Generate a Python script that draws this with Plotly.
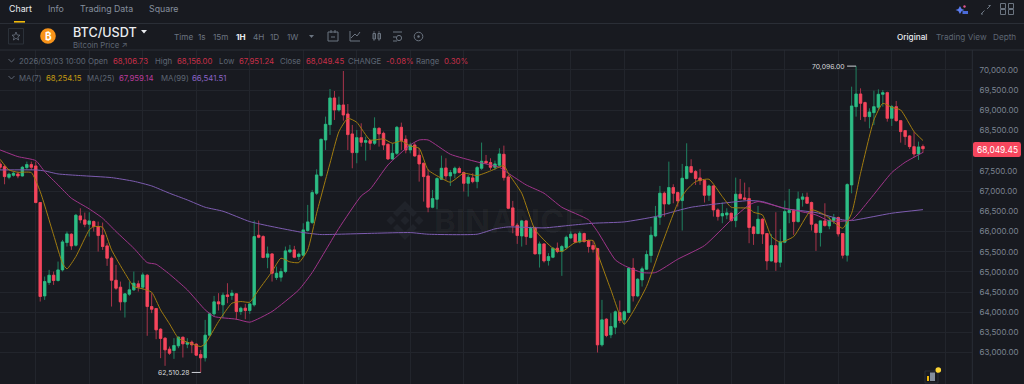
import pandas as pd
import plotly.graph_objects as go

opens = [67673,67607,67344,67393,67426,67376,67583,67657,67624,66717,
64406,64737,64918,64786,65050,65727,65933,65660,66387,66288,
66180,66246,66122,65908,65644,65339,64794,64621,64258,64448,
64555,64704,64621,64918,64142,64093,63581,63359,63087,63054,
63169,63383,63210,63260,63210,62955,62872,63433,63961,64258,
64184,64431,64415,64456,64019,64101,64044,64184,65908,65875,
65363,65446,64860,64869,65009,65495,65545,65380,65413,66024,
66222,66948,67385,68267,68647,69307,69010,69134,68911,68416,
67954,68325,68210,68251,68185,68556,68432,68160,67797,67937,
68581,68284,68020,68144,67888,67690,67376,66601,66799,67294,
67575,67376,67442,67558,67459,67195,67327,67236,67566,67740,
67707,67591,67641,67913,67352,66585,66155,65891,66263,65850,
66090,65446,65693,65281,65363,65586,65504,65603,65842,65933,
65743,65949,65776,65652,65578,63194,63829,63441,63631,63994,
63812,63994,65091,64406,64802,65067,65405,65891,66354,66948,
66684,67088,66964,66766,67311,67607,67484,67327,67261,66898,
67129,66535,66387,66411,66452,66271,66923,66832,66815,66114,
65949,66304,65949,65273,65652,65240,65735,66469,66519,66246,
66799,66849,66717,66180,65974,66263,66139,66271,66345,65949,
65413,67154,69092,69406,69192,68845,68944,69076,69398,69439,
68804,69092,68746,68499,68367,68102,67921,68106.73]
highs = [67731,67649,67459,67484,67484,67624,67731,67731,67731,66730,
64885,65050,65009,65256,65792,66000,65957,66436,66576,66469,
66477,66271,66246,66222,65710,65380,65174,64761,64473,64761,
65009,64786,64984,64943,64473,64100,63606,63383,63152,63359,
63400,63395,63359,63301,63235,63070,63812,63994,64406,64473,
64489,64720,64555,64473,64142,64208,64225,66271,66271,65908,
65628,65463,65132,65091,65628,65669,65644,65479,66205,66659,
67030,67541,68295,68845,69530,69480,69340,69975,69158,68639,
68515,68680,68350,68267,68828,68581,68474,68185,68185,68614,
68697,68383,68202,68202,68061,67707,67541,67030,67344,67880,
67814,67525,67607,67607,67484,67401,67442,67624,68202,67896,
67814,67756,68061,68127,67401,66758,66205,66288,66288,66122,
66122,65751,65710,65463,65611,65727,65669,65900,66007,65957,
66007,65974,65801,65776,65595,64307,63854,63978,64044,64291,
64044,65116,65339,64844,65132,65529,66122,66634,67129,66989,
67731,67170,66989,67674,68185,67789,67525,67550,67277,67162,
67154,66576,66717,66576,66469,67335,67302,67211,67096,66139,
66634,66329,65957,65933,66477,66057,66766,67055,66552,66989,
66948,66964,66741,66205,66271,66700,66370,66436,66370,65957,
67195,69587,70096,69546,69216,69051,69488,69521,69505,69464,
69134,69233,68763,68515,68391,68474,68226,68156]
lows = [67525,67170,67294,67360,67319,67360,67541,67525,66700,64266,
64307,64679,64679,64761,65009,65628,65545,65628,66205,66106,
65875,66000,65504,65545,65149,64142,64555,64044,63870,64406,
64530,64514,64572,63417,63978,63334,62864,62674,62946,62847,
63111,62880,63111,62987,62921,62510.28,62781,63400,63895,64044,
63854,64225,64307,63812,63936,63829,63961,64142,65834,65339,
65091,64761,64802,64761,64968,65463,65339,65297,65380,66000,
66188,66906,67360,68020,68391,68762,68969,68746,68020,67566,
67690,68102,67756,68020,68144,68102,68020,67772,67772,67896,
68020,67937,67937,67855,67236,66741,66477,66576,66552,67277,
67277,67129,67319,67442,66989,66865,67195,67071,67525,67674,
67525,67525,67607,67261,66552,65957,65693,65628,65669,65834,
65440,65108,65231,65157,65339,65463,64902,65561,65817,65710,
65710,65727,65479,65479,63004,63152,63383,63359,63458,63730,
63689,63978,64266,64374,64637,65050,65231,65859,66164,66370,
66659,66700,66617,66024,67294,67442,67154,67154,66717,66758,
66370,66271,66205,66304,66246,66106,66799,66782,65710,65669,
65941,65693,65050,65256,65025,65116,65710,66205,65916,66222,
66617,66684,66024,65520,65628,66122,66057,66188,65875,65331,
65256,66947,68845,68762,68721,68556,68639,69010,69092,68721,
68614,68721,68201,68144,68045,67838,67773,67951.24]
closes = [67591,67360,67418,67442,67376,67591,67657,67591,66717,64390,
64761,64918,64786,65050,65743,65941,65644,66403,66288,66180,
66263,66122,65900,65628,65339,64794,64596,64258,64456,64555,
64720,64621,64926,64142,64076,63565,63350,63070,62987,63177,
63383,63219,63252,63194,62938,62872,63433,63961,64258,64208,
64423,64390,64473,64019,64101,64044,64208,65875,65859,65355,
65446,64968,64968,65009,65520,65545,65363,65438,66040,66238,
66964,67401,68284,68655,69307,69010,69134,68886,68400,67954,
68325,68210,68251,68185,68556,68416,68144,67797,67937,68581,
68251,68020,68144,67871,67674,67360,66601,66815,67311,67566,
67376,67459,67566,67459,67195,67344,67236,67583,67740,67698,
67591,67674,67921,67335,66576,66147,65900,66263,65875,66081,
65446,65693,65273,65380,65586,65504,65628,65859,65933,65735,
65957,65751,65628,65561,63194,63812,63425,63648,64011,63796,
64011,65091,64406,64819,65075,65430,65908,66354,66948,66684,
67088,66948,66758,67319,67607,67467,67311,67261,66898,67129,
66535,66370,66444,66461,66271,66923,66815,66799,66098,65949,
66304,65941,65273,65652,65240,65743,66494,66519,66246,66807,
66857,66700,66180,65974,66263,66147,66271,66345,65941,65413,
67162,69109,69406,69175,68845,68960,69092,69398,69439,68804,
69092,68746,68474,68350,68102,67921,68094,68049.45]

# moving-average readings: position (candle number, 0 = the big drop) and value
ma7_pos = [-8,-6,-4,-1,1,4,6,7,9,12,13,15,17,20,22,24,26,28,30,32,35,37,38,41,44,46,48,50,53,55,57,59,61,63,66,68,70,72,75,78,80,82,84,86,88,91,93,96,99,102,105,106,109,112,116,118,121,125,126,129,132,134,137,140,144,146,148,151,154,156,160,161,163,165,167,170,174,177,181,183,185,188,190,192,194,197,199]
ma7_val = [67789,67525,67467,67459,66989,65916,65215,65075,65380,66040,66122,66106,65545,64968,64637,64580,64497,64060,63714,63359,63219,63152,63219,63771,64225,64266,64250,64555,65009,65339,65248,65231,65545,66452,67690,68474,68804,68705,68267,68292,68185,68243,68119,68061,67525,67319,67220,67442,67385,67500,67632,67442,66948,66040,65586,65504,65727,65776,65463,64555,63705,64019,64637,65545,66700,67030,67236,67294,66865,66601,66576,66477,66411,65875,65735,65875,66535,66411,66081,66452,67443,68762,69175,69076,69010,68474,68254.15]
ma25_pos = [-8,-4,0,2,5,8,12,15,18,22,25,27,30,34,38,40,45,48,53,59,62,68,73,75,79,84,86,88,93,99,104,106,110,114,118,124,126,130,132,136,139,144,150,156,160,162,168,175,178,183,187,192,195,199]
ma25_val = [68020,67855,67756,67484,67154,66824,66560,66329,66000,65586,65231,65190,64943,64555,64060,63895,63829,63755,64019,64555,64984,66081,66881,67047,67649,68144,68267,68267,67913,67723,67591,67442,67154,66948,66601,66288,66000,65297,65157,64984,64984,65314,65652,66288,66659,66741,66576,66411,66263,66287,66782,67459,67715,67959.14]
ma99_pos = [-8,0,2,5,10,17,22,26,30,34,38,42,48,53,60,64,68,76,84,88,99,103,106,114,120,125,132,139,144,147,152,160,163,168,175,181,183,186,192,199]
ma99_val = [67525,67525,67500,67426,67385,67335,67244,67129,66948,66782,66601,66502,66246,66122,65974,65925,65933,65957,65974,65933,65933,66065,66114,66090,66155,66205,66238,66370,66519,66601,66675,66766,66741,66568,66469,66288,66271,66329,66453,66541.51]

y_ticks = [63000,63500,64000,64500,65000,65500,66000,66500,67000,67500,68000,68500,69000,69500,70000]
y_labels = ["63,000.00","63,500.00","64,000.00","64,500.00","65,000.00","65,500.00","66,000.00","66,500.00","67,000.00","67,500.00","","68,500.00","69,000.00","69,500.00","70,000.00"]

nav_tabs = ["Chart","Info","Trading Data","Square"]
intervals = ["Time","1s","15m","1H","4H","1D","1W"]
views = ["Original","Trading View","Depth"]

BG, GRID, DIV = "#181a20", "#22252c", "#2a2e36"
UP, DOWN = "#2ebd85", "#f6465d"
UP_W, DOWN_W = "#1f8060", "#a8344a"
C7, C25, C99 = "#a17c10", "#a0348a", "#7d5cb0"
FONT = "Inter"
W, H, R, T = 1024, 384, 52, 50
PW, PH = W - R, H - T

times = pd.date_range(end="2026-03-03 10:00", periods=len(opens), freq="h")
def t(n):
    return pd.Timestamp("2026-02-23 03:00") + pd.Timedelta(hours=n)
def at(pos):
    return [t(n) for n in pos]

fig = go.Figure()
fig.add_trace(go.Candlestick(x=times, open=opens, high=highs, low=lows, close=closes,
    increasing=dict(line=dict(color=UP_W, width=1), fillcolor=UP_W),
    decreasing=dict(line=dict(color=DOWN_W, width=1), fillcolor=DOWN_W),
    whiskerwidth=0, name="wick", hoverinfo="skip"))
fig.add_trace(go.Candlestick(x=times, open=opens, close=closes,
    high=[max(a, b) for a, b in zip(opens, closes)], low=[min(a, b) for a, b in zip(opens, closes)],
    increasing=dict(line=dict(color=UP, width=0.6), fillcolor=UP),
    decreasing=dict(line=dict(color=DOWN, width=0.6), fillcolor=DOWN),
    whiskerwidth=0, name="BTC/USDT"))
for pos, val, col, name in [(ma99_pos, ma99_val, C99, "MA(99)"), (ma25_pos, ma25_val, C25, "MA(25)"), (ma7_pos, ma7_val, C7, "MA(7)")]:
    fig.add_trace(go.Scatter(x=at(pos), y=val, mode="lines", name=name,
                             line=dict(color=col, width=1, shape="spline", smoothing=0.5)))

def X(px): return px / PW
def Y(py): return (H - py) / PH
ann, shp = [], []
def text(x, y, s, color="#848e9c", size=8.5, anchor="left", weight=None):
    f = dict(family=FONT, size=size, color=color)
    if weight:
        f["weight"] = weight
    ann.append(dict(xref="paper", yref="paper", x=X(x), y=Y(y), text=s, showarrow=False, xanchor=anchor, yanchor="middle", borderpad=0, font=f))
def rect(x0, y0, x1, y1, fill=None, line=None, lw=1, layer="above"):
    shp.append(dict(type="rect", xref="paper", yref="paper", x0=X(x0), x1=X(x1), y0=Y(y0), y1=Y(y1), fillcolor=fill,
                    line=dict(color=line, width=lw if line else 0), layer=layer))
def seg(x0, y0, x1, y1, color, lw=1, layer="above"):
    shp.append(dict(type="line", xref="paper", yref="paper", x0=X(x0), x1=X(x1), y0=Y(y0), y1=Y(y1), line=dict(color=color, width=lw), layer=layer))
def circ(cx, cy, r, fill=None, line=None, lw=1):
    shp.append(dict(type="circle", xref="paper", yref="paper", x0=X(cx-r), x1=X(cx+r), y0=Y(cy-r), y1=Y(cy+r), fillcolor=fill,
                    line=dict(color=line, width=lw if line else 0)))
def poly(pts, fill=None, line=None, lw=1, layer="above"):
    d = "M " + " L ".join(f"{X(a):.5f},{Y(b):.5f}" for a, b in pts) + " Z"
    shp.append(dict(type="path", xref="paper", yref="paper", path=d, fillcolor=fill, line=dict(color=line, width=lw if line else 0), layer=layer))

# top nav
for s, x, c in zip(nav_tabs, [8, 47, 79, 148], ["#eaecef", "#848e9c", "#848e9c", "#848e9c"]):
    text(x, 8.6, s, c, 8.8)
rect(14, 21, 25, 22.6, fill="#f0b90b")
seg(0, 23.5, W, 23.5, DIV)
seg(0, 50, W, 50, DIV)
seg(PW + .3, 50, PW + .3, H, DIV)

# star box, coin
rect(8.5, 28.5, 23.5, 44, line="#2b3139")
poly([(16,32),(17.2,35),(20,35.2),(17.8,37),(18.6,40),(16,38.3),(13.4,40),(14.2,37),(12,35.2),(14.8,35)], line="#6a7280", lw=0.8)
circ(48, 36, 7.8, fill="#f7931a")
text(48, 36, "₿", "#ffffff", 10, "center", 700)
text(72, 32.5, "BTC/USDT", "#eaecef", 12.6, weight=500)
poly([(141,30),(147,30),(144,33.5)], fill="#eaecef")
text(72, 45, "Bitcoin Price ↗", "#5e6673", 7.8)

for s, x, c in zip(intervals, [173, 197, 212, 235, 252, 269, 286],
                   ["#6b7480", "#6b7480", "#6b7480", "#eaecef", "#6b7480", "#6b7480", "#6b7480"]):
    text(x, 37, s, c, 8.2, weight=700 if s == "1H" else None)
poly([(309,35),(314,35),(311.5,38)], fill="#6b7480")
# toolbar icons
ic = "#6b7480"
rect(328, 32, 338, 41, line=ic); seg(331, 30, 331, 33, ic); seg(335, 30, 335, 33, ic); seg(331, 37, 335, 37, ic)
seg(350, 31, 350, 41, ic); seg(350, 41, 360, 41, ic); seg(351, 38, 355, 34, ic); seg(355, 34, 357, 36, ic); seg(357, 36, 360, 32, ic)
rect(373, 33.5, 375.5, 39, line=ic); rect(378, 33.5, 380.5, 39, line=ic); seg(374, 31, 374, 41, ic, .7); seg(379, 31, 379, 41, ic, .7)
seg(393, 32, 402, 32, ic); seg(393, 37, 396, 37, ic); seg(393, 41, 397, 41, ic); circ(399, 38, 2.6, line=ic)
circ(418.5, 36.5, 4.3, line=ic); circ(418.5, 36.5, 1.2, fill=ic)
# right of toolbar
for s, x, c, wgt in zip(views, [896, 935, 992], ["#eaecef", "#5e6673", "#5e6673"], [500, None, None]):
    text(x, 37, s, c, 8.2, weight=wgt)
# top right icons
poly([(960,6),(961.7,9),(964.5,10),(961.7,11),(960,14),(958.3,11),(955.5,10),(958.3,9)], fill="#5b7cf0")
circ(964.5, 6.5, 1.2, fill="#e0568c"); rect(962.5, 11, 968, 14, fill="#4a6ad8")
seg(981, 14, 984.5, 10.5, "#6b7480"); seg(987, 9, 990.5, 5.5, "#6b7480"); seg(981,14,983,14,"#6b7480"); seg(988.5,5.5,990.5,5.5,"#6b7480")
for cx, cy in [(1003, 6), (1011, 6), (1003, 12), (1011, 12)]:
    rect(cx-2.5, cy-2.5, cx+2.5, cy+2.5, line="#6b7480")

# info rows
RED_T = "#c72f48"
def chevron(y):
    shp.append(dict(type="path", xref="paper", yref="paper", path=f"M {X(8.5):.5f},{Y(y-1.5):.5f} L {X(11.5):.5f},{Y(y+1.5):.5f} L {X(14.5):.5f},{Y(y-1.5):.5f}", line=dict(color="#5e6673", width=1)))
chevron(60.5)
for x, s, c in [(18, "2026/03/03 10:00", "#5e6673"), (87, "Open", "#5e6673"), (112, "68,106.73", RED_T), (154, "High", "#5e6673"),
                (176, "68,156.00", RED_T), (218, "Low", "#5e6673"), (237.5, "67,951.24", RED_T), (279, "Close", "#5e6673"),
                (305, "68,049.45", RED_T), (347, "CHANGE", "#5e6673"), (385, "-0.08%", RED_T), (415, "Range", "#5e6673"), (443, "0.30%", RED_T)]:
    text(x, 60.7, s, c, 7.8)
chevron(77.5)
for x, s, c in [(18, "MA(7)", "#5e6673"), (45, "68,254.15", "#c49a12"), (86, "MA(25)", "#5e6673"), (118, "67,959.14", "#b73a9b"),
                (160, "MA(99)", "#5e6673"), (191, "66,541.51", "#8a63c6")]:
    text(x, 78, s, c, 7.8)

# extreme markers
for n, price, lbl in [(184, 70096, "70,096.00"), (37, 62510.28, "62,510.28")]:
    ann.append(dict(x=t(n), y=price, xref="x", yref="y", text=lbl, showarrow=True, arrowhead=0, arrowwidth=1, arrowcolor="#d0d3d8",
                    ax=-9, ay=0, axref="pixel", ayref="pixel", xanchor="right", yanchor="middle", borderpad=1,
                    font=dict(family=FONT, size=6.8, color="#d8dadd")))

# last price tag
x0, x1, y0, y1 = 973, 1021, 142, 157
r = 2.5
shp.append(dict(type="path", xref="paper", yref="paper", fillcolor=DOWN, line=dict(width=0),
    path=(f"M {X(x0+r):.5f},{Y(y0):.5f} L {X(x1-r):.5f},{Y(y0):.5f} Q {X(x1):.5f},{Y(y0):.5f} {X(x1):.5f},{Y(y0+r):.5f} "
          f"L {X(x1):.5f},{Y(y1-r):.5f} Q {X(x1):.5f},{Y(y1):.5f} {X(x1-r):.5f},{Y(y1):.5f} L {X(x0+r):.5f},{Y(y1):.5f} "
          f"Q {X(x0):.5f},{Y(y1):.5f} {X(x0):.5f},{Y(y1-r):.5f} L {X(x0):.5f},{Y(y0+r):.5f} Q {X(x0):.5f},{Y(y0):.5f} {X(x0+r):.5f},{Y(y0):.5f} Z")))
text(997, 149.7, "68,049.45", "#ffffff", 8.4, "center")

# watermark
WM = "#20232a"
def diamond(cx, cy, rr):
    poly([(cx, cy-rr), (cx+rr, cy), (cx, cy+rr), (cx-rr, cy)], fill=WM, layer="below")
poly([(405,201),(417,213),(413,217),(405,209),(397,217),(393,213)], fill=WM, layer="below")
poly([(405,240),(417,228),(413,224),(405,232),(397,224),(393,228)], fill=WM, layer="below")
diamond(405, 220.5, 4.5); diamond(391, 220.5, 4.5); diamond(419, 220.5, 4.5)
text(433, 220.5, "BINANCE", "rgba(255,255,255,0.035)", 33, weight=700)

# bottom right widget
rect(925, 371, 938, 383, line="#2a2e36")
rect(930, 372.5, 935, 381, fill="#848e9c")
rect(927, 376, 929, 381, fill="#f0b90b")
circ(938.3, 370, 2.8, fill="#fcd535")

fig.update_layout(width=W, height=H, margin=dict(l=0, r=R, t=T, b=0), paper_bgcolor=BG, plot_bgcolor=BG,
    showlegend=False, boxgap=0.24, dragmode=False, annotations=ann, shapes=shp, hovermode=False,
    font=dict(family=FONT, color="#848e9c"))
fig.update_xaxes(type="date", range=[t(-8.02), t(210)], rangeslider_visible=False, showticklabels=False, ticks="",
    tick0="2026-02-23 03:00", dtick=12 * 3600000, showgrid=True, gridcolor=GRID, gridwidth=1, zeroline=False, showline=False)
fig.update_yaxes(side="right", range=[62224, 70495], tickvals=y_ticks, ticktext=y_labels, ticks="outside", ticklen=5, tickcolor=BG,
    showgrid=True, gridcolor=GRID, gridwidth=1, zeroline=False, showline=False,
    tickfont=dict(family=FONT, size=8, color="#7b8491"))
assert len(opens) == len(highs) == len(lows) == len(closes) == 208
fig.write_html("out.html", config=dict(displayModeBar=False, responsive=False),
               post_script="document.body.style.margin='0';document.body.style.overflow='hidden';document.body.style.background='#181a20';")
